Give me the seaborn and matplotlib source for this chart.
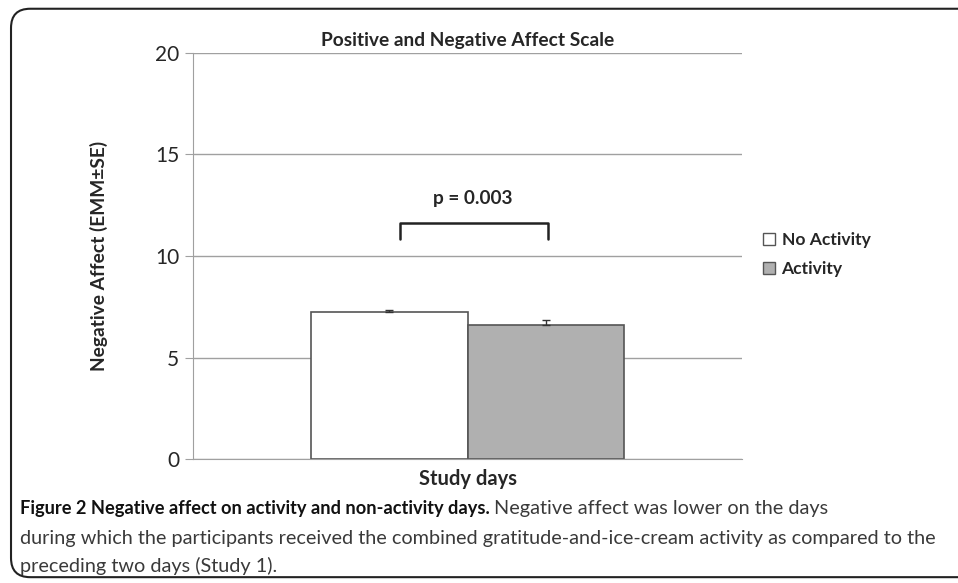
import numpy as np
import pandas as pd
import matplotlib
matplotlib.use("Agg")
import matplotlib.pyplot as plt
import seaborn as sns
from matplotlib.patches import FancyBboxPatch

# data
conditions = ["No Activity", "Activity"]
means = [7.23, 6.62]
se = [0.13, 0.23]
group = ["Study days", "Study days"]

df = pd.DataFrame({"group": group, "condition": conditions, "mean": means})

sns.set_style("white")
plt.rcParams["font.family"] = ["Lato", "DejaVu Sans"]

fig = plt.figure(figsize=(9.58, 5.83), dpi=100)
ax = fig.add_axes([0.2015, 0.2122, 0.573, 0.6974])

sns.barplot(data=df, x="group", y="mean", hue="condition", palette=["white", "#b0b0b0"],
            edgecolor="#555555", linewidth=1.2, width=0.57, errorbar=None, ax=ax, legend=True)

# error bars on top of the bars (upper half only)
for bar, s in zip(ax.patches[:2], se):
    cx = bar.get_x() + bar.get_width() / 2
    ax.errorbar(cx, bar.get_height(), yerr=[[0], [s]], fmt="none", ecolor="#333333",
                elinewidth=1, capsize=3, capthick=1, zorder=5)

ax.set_ylim(0, 20)
ax.set_xlim(-0.5, 0.5)
ax.set_yticks([0, 5, 10, 15, 20])
ax.yaxis.grid(True, color="#a0a0a0", linewidth=1)
ax.set_axisbelow(True)
ax.tick_params(axis="y", left=True, length=6, color="#a0a0a0", labelsize=15, pad=4)
ax.tick_params(axis="x", bottom=False)
ax.set_xticklabels([])
for side in ["top", "right"]:
    ax.spines[side].set_visible(False)
ax.spines["left"].set_color("#a0a0a0")
ax.spines["bottom"].set_color("#a0a0a0")
ax.set_xlabel("Study days", fontsize=14.5, fontweight="bold", labelpad=0)
ax.set_ylabel("Negative Affect (EMM\u00b1SE)", fontsize=13.8, fontweight="bold", labelpad=34)
ax.set_title("Positive and Negative Affect Scale", fontsize=13.8, fontweight="bold", pad=5)

# significance bracket
ax.plot([-0.123, -0.123, 0.147, 0.147], [10.84, 11.64, 11.64, 10.84], color="#222222", lw=1.8)
ax.text(0.01, 12.85, "p = 0.003", ha="center", va="center", fontsize=13.7, fontweight="bold")

leg = ax.legend(loc="center left", bbox_to_anchor=(1.01, 0.503), frameon=False, fontsize=12.6,
                handlelength=0.7, handleheight=0.7, handletextpad=0.35, labelspacing=0.75)
for t in leg.get_texts():
    t.set_fontweight("bold")
for h in leg.legend_handles:
    h.set_edgecolor("#555555")
    h.set_linewidth(1)

# rounded frame round the figure and caption
frame = FancyBboxPatch((0.0115, 0.01), 1.2, 0.975, boxstyle="round,pad=0,rounding_size=0.02",
                       transform=fig.transFigure, fill=False, edgecolor="#222222", linewidth=1.5,
                       clip_on=False, mutation_aspect=958 / 583)
fig.patches.append(frame)

# caption, sized so the second line runs to about x=940 px
line1_bold = "Figure 2 Negative affect on activity and non-activity days."
line1_rest = "Negative affect was lower on the days"
line2 = "during which the participants received the combined gratitude-and-ice-cream activity as compared to the"
line3 = "preceding two days (Study 1)."

probe = fig.text(0.021, 0.077, line2, fontsize=14, va="center", color="#3a3a3a")
fig.canvas.draw()
w = probe.get_window_extent().width
cap_size = 14 * 920 / w
probe.set_fontsize(cap_size)

b = fig.text(0.021, 0.127, line1_bold, fontsize=cap_size * 0.92, fontweight="bold",
             va="center", color="#111111")
fig.canvas.draw()
x1 = b.get_window_extent().x1 / fig.bbox.width
fig.text(x1 + 0.004, 0.127, line1_rest, fontsize=cap_size, va="center", color="#3a3a3a")
fig.text(0.021, 0.029, line3, fontsize=cap_size, va="center", color="#3a3a3a")

fig.savefig("out.png", dpi=100)
